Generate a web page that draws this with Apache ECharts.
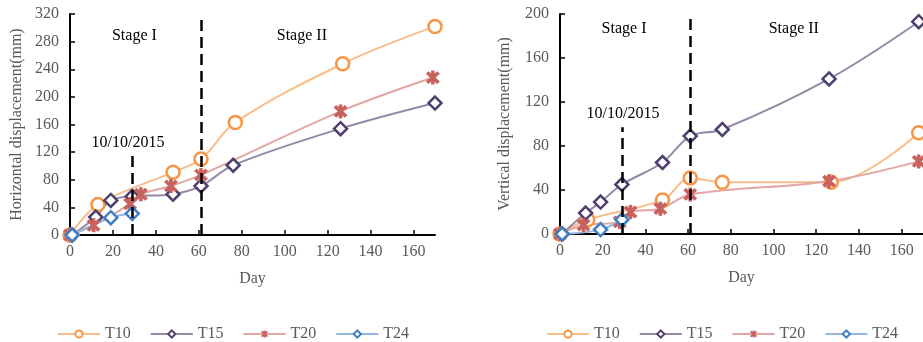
<!DOCTYPE html>
<html><head><meta charset="utf-8">
<script src="https://cdn.jsdelivr.net/npm/echarts@6/dist/echarts.min.js"></script>
<style>html,body{margin:0;padding:0;background:#fff;}#c{width:923px;height:342px;}</style>
</head><body><div id="c"></div>
<script>
// ---- data ----
const seriesNames = ['T10', 'T15', 'T20', 'T24'];
const xTickValues = [0, 20, 40, 60, 80, 100, 120, 140, 160];
// Horizontal displacement [day, mm]
const hT10 = [[0,0],[13,44],[48,91],[61,110],[77,163],[127,248],[170,302]];
const hT15 = [[1,0],[12,26],[19,50],[29,56],[48,59],[61,71],[76,101],[126,154],[170,191]];
const hT20 = [[0,0],[11,14],[28,45],[33,59],[47,71],[61,87],[126,179],[169,228]];
const hT24 = [[1,0],[19,25],[29,31]];
// Vertical displacement [day, mm]
const vT10 = [[0,0],[13,13],[48,31],[61,51],[76,47],[127,47],[168,92]];
const vT15 = [[1,0],[12,19],[19,29],[29,45],[48,65],[61,89],[76,95],[126,141],[168,193]];
const vT20 = [[0,0],[11,8],[28,11],[33,20],[47,23],[61,36],[126,48],[168,66]];
const vT24 = [[1,0],[19,4],[29,13]];
// annotations
const dateLineDay = 29, stageLineDay = 61;
const hDateLineTop = 122, vDateLineTop = 97;
const hTexts = [['Stage I', 30, 288], ['Stage II', 108, 288], ['10/10/2015', 27, 134]];
const vTexts = [['Stage I', 30, 187], ['Stage II', 109.5, 187], ['10/10/2015', 29.5, 109]];

// ---- styles ----
const FONT = 'Liberation Serif';
const GRAY = '#595959';
const starPath = 'path://M-6.2 -3.8 L3.8 6.2 L6.2 3.8 L-3.8 -6.2 Z M-3.8 6.2 L6.2 -3.8 L3.8 -6.2 L-6.2 3.8 Z M-1.6 -6.8 L-1.6 6.8 L1.6 6.8 L1.6 -6.8 Z';
const styles = {
  T10: {symbol: 'circle', size: 13, line: '#F9BD8A', item: {color: '#fff', borderColor: '#F79646', borderWidth: 2.5}},
  T15: {symbol: 'diamond', size: 13, line: '#948AA8', item: {color: '#fff', borderColor: '#4F3F6E', borderWidth: 2.5}},
  T20: {symbol: starPath, size: 14, line: '#E2A6A4', item: {color: '#C8625F', borderWidth: 0}},
  T24: {symbol: 'diamond', size: 13, line: '#95B8E0', item: {color: '#fff', borderColor: '#3F7FC6', borderWidth: 2.5}}
};

function mkSeries(name, data, idx) {
  const s = styles[name];
  return {
    name, type: 'line', data, xAxisIndex: idx, yAxisIndex: idx,
    smooth: 0.35, clip: false,
    symbol: s.symbol, symbolSize: s.size,
    lineStyle: {color: s.line, width: 2},
    itemStyle: s.item,
    z: 3
  };
}

function mkAnno(idx, topY, dateTop, texts) {
  return {
    name: 'anno' + idx, type: 'line', data: [], xAxisIndex: idx, yAxisIndex: idx,
    markLine: {
      silent: true, symbol: ['none', 'none'], label: {show: false},
      lineStyle: {color: '#000', width: 2.5, type: [11, 6]},
      data: [
        [{coord: [dateLineDay, 0]}, {coord: [dateLineDay, dateTop]}],
        [{coord: [stageLineDay, 0]}, {coord: [stageLineDay, topY]}]
      ]
    },
    markPoint: {
      silent: true, symbol: 'circle', symbolSize: 0,
      itemStyle: {color: 'transparent'},
      label: {show: true, position: 'inside', color: '#000', fontSize: 16, fontFamily: FONT, formatter: p => p.name},
      data: texts.map(t => ({name: t[0], coord: [t[1], t[2]]}))
    },
    z: 2
  };
}

function xAxis(idx) {
  return {
    type: 'value', gridIndex: idx, min: 0, max: 170, interval: 20,
    name: 'Day', nameLocation: 'middle', nameGap: 36,
    nameTextStyle: {color: GRAY, fontSize: 16, fontFamily: FONT},
    axisLine: {lineStyle: {color: '#000', width: 2}},
    axisTick: {inside: true, length: 5, lineStyle: {color: '#000', width: 1.5}, customValues: xTickValues},
    axisLabel: {color: GRAY, fontSize: 16, fontFamily: FONT, margin: 9, customValues: xTickValues,
      formatter: v => (v > 160 ? '' : String(v))},
    splitLine: {show: false}
  };
}
function yAxis(idx, max, name, gap) {
  return {
    type: 'value', gridIndex: idx, min: 0, max, interval: 40,
    name, nameLocation: 'middle', nameGap: gap, nameRotate: 90,
    nameTextStyle: {color: GRAY, fontSize: 16, fontFamily: FONT},
    axisLine: {show: true, lineStyle: {color: '#000', width: 2}},
    axisTick: {show: true, inside: true, length: 5, lineStyle: {color: '#000', width: 1.5}},
    axisLabel: {color: GRAY, fontSize: 16, fontFamily: FONT, margin: 11},
    splitLine: {show: false}
  };
}
function legend(left) {
  return {
    data: seriesNames, left, top: 326, padding: 0, itemWidth: 42, itemHeight: 9, itemGap: 19,
    textStyle: {color: GRAY, fontSize: 16, fontFamily: FONT}, selectedMode: false
  };
}

const chart = echarts.init(document.getElementById('c'), null, {renderer: 'canvas'});
chart.setOption({
  animation: false,
  backgroundColor: '#fff',
  textStyle: {fontFamily: FONT},
  grid: [
    {left: 70, top: 14, width: 365, height: 221},
    {left: 560, top: 14, width: 365, height: 220}
  ],
  xAxis: [xAxis(0), xAxis(1)],
  yAxis: [yAxis(0, 320, 'Horizontal displacement(mm)', 45), yAxis(1, 200, 'Vertical displacement(mm)', 47)],
  legend: [legend(57), legend(546)],
  series: [
    mkAnno(0, 320, hDateLineTop, hTexts),
    mkSeries('T10', hT10, 0), mkSeries('T15', hT15, 0), mkSeries('T20', hT20, 0), mkSeries('T24', hT24, 0),
    mkAnno(1, 200, vDateLineTop, vTexts),
    mkSeries('T10', vT10, 1), mkSeries('T15', vT15, 1), mkSeries('T20', vT20, 1), mkSeries('T24', vT24, 1)
  ]
});
</script>
</body></html>
